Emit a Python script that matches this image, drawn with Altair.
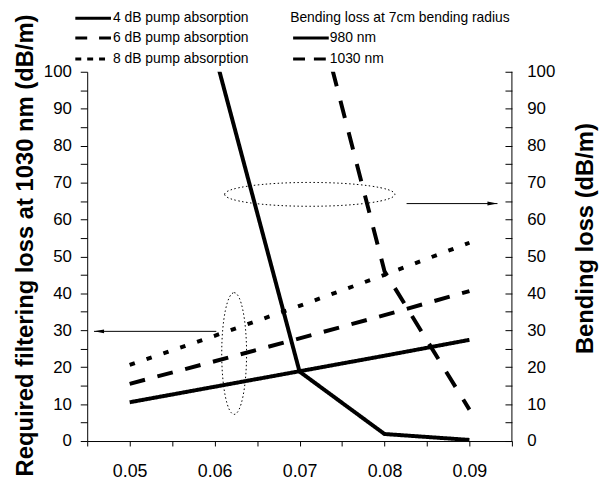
import altair as alt
import pandas as pd

# ---------------- data ----------------
x_vals = [0.05, 0.06, 0.07, 0.08, 0.09]
loss_4db = [10.5, 14.7, 18.9, 23.1, 27.4]
loss_6db = [15.5, 21.6, 27.8, 34.1, 40.6]
loss_8db = [20.6, 28.5, 36.6, 45.0, 53.7]
filter_series = ["4 dB pump absorption", "6 dB pump absorption", "8 dB pump absorption"]

bend_980_x = [0.06, 0.07, 0.08, 0.09]
bend_980 = [105.0, 18.8, 1.9, 0.3]
bend_1030_x = [0.07, 0.08, 0.09]
bend_1030 = [135.0, 46.0, 8.5]
bend_series = ["980 nm", "1030 nm"]
legend_title = "Bending loss at 7cm bending radius"

x_ticks = [0.045, 0.05, 0.055, 0.06, 0.065, 0.07, 0.075, 0.08, 0.085, 0.09, 0.095]
y_ticks = [0, 5, 10, 15, 20, 25, 30, 35, 40, 45, 50, 55, 60, 65, 70, 75, 80, 85, 90, 95, 100]

# annotation (ellipses + arrows), in data coordinates
ell_h = {"x": [0.0712], "y": [66.8]}
ell_v = {"x": [0.0623], "y": [23.7]}
arrow_x = [0.0826, 0.0602]
arrow_x2 = [0.0933, 0.0458]
arrow_y = [64.3, 29.7]
head_x = [0.0927, 0.0464]
head_angle = [0, 180]

W, H = 429, 373
SANS = "Liberation Sans"

filt_df = pd.DataFrame({
    "x": x_vals * 3,
    "y": loss_4db + loss_6db + loss_8db,
    "series": [filter_series[0]] * 5 + [filter_series[1]] * 5 + [filter_series[2]] * 5,
})
bend_df = pd.DataFrame({
    "x": bend_980_x + bend_1030_x,
    "y": bend_980 + bend_1030,
    "series": [bend_series[0]] * len(bend_980_x) + [bend_series[1]] * len(bend_1030_x),
})

xs = alt.Scale(domain=[0.045, 0.095], nice=False, zero=False)
ys = alt.Scale(domain=[0, 100], nice=False)

x_axis = alt.Axis(
    values=x_ticks,
    labelExpr="(round(datum.value*1000) % 10 == 0) ? format(datum.value, '.2f') : ''",
    tickSize=5, labelPadding=17, labelFont=SANS, labelFontSize=18,
    labelOverlap=False, labelFlush=False,
    title=None,
)
left_axis = alt.Axis(
    values=y_ticks, orient="left",
    labelExpr="datum.value % 10 == 0 ? datum.label : ''",
    tickSize=7, labelPadding=9, labelFont=SANS, labelFontSize=17,
    labelOverlap=False, labelFlush=False,
    title="Required filtering loss at 1030 nm (dB/m)",
    titleFont=SANS, titleFontSize=24, titleFontWeight="bold",
    titleAngle=270, titleX=-62, titleY=175, titleAlign="center", titleBaseline="middle",
)
right_axis = alt.Axis(
    values=y_ticks, orient="right", offset=-7, domain=False,
    labelExpr="datum.value % 10 == 0 ? datum.label : ''",
    tickSize=7, labelPadding=15, labelFont=SANS, labelFontSize=17,
    labelOverlap=False, labelFlush=False,
    title="Bending loss (dB/m)",
    titleFont=SANS, titleFontSize=24, titleFontWeight="bold",
    titleAngle=270, titleX=81, titleY=168, titleAlign="center", titleBaseline="middle",
)


def X(field):
    return alt.X(field, scale=xs, axis=x_axis)


def YL(field):
    return alt.Y(field, scale=ys, axis=left_axis)


filt = alt.Chart(filt_df).mark_line(strokeWidth=4, color="black").encode(
    x=X("x:Q"),
    y=YL("y:Q"),
    strokeDash=alt.StrokeDash("series:N", legend=None,
                              scale=alt.Scale(domain=filter_series,
                                              range=[[1, 0], [16, 13], [5.5, 12.5]])),
)

ellipse_h = alt.Chart(pd.DataFrame(ell_h)).mark_point(
    shape="M -1 0 A 1 0.14 0 1 1 1 0 A 1 0.14 0 1 1 -1 0 Z",
    size=172 * 172, filled=False, stroke="black", strokeWidth=1,
    strokeDash=[1.5, 2.5], opacity=1,
).encode(x=X("x:Q"), y=YL("y:Q"))

ellipse_v = alt.Chart(pd.DataFrame(ell_v)).mark_point(
    shape="M 0 -1 A 0.204 1 0 1 1 0 1 A 0.204 1 0 1 1 0 -1 Z",
    size=123 * 123, filled=False, stroke="black", strokeWidth=1,
    strokeDash=[1.5, 2.5], opacity=1,
).encode(x=X("x:Q"), y=YL("y:Q"))

arr_df = pd.DataFrame({"x": arrow_x, "x2": arrow_x2, "y": arrow_y,
                       "hx": head_x, "ang": head_angle})
arrows = alt.Chart(arr_df).mark_rule(strokeWidth=1, color="black").encode(
    x=X("x:Q"), x2="x2:Q", y=YL("y:Q"))
heads = alt.Chart(arr_df).mark_point(
    shape="M -1 -0.4 L 1 0 L -1 0.4 Z", size=100, filled=True,
    color="black", opacity=1,
).encode(x=X("hx:Q"), y=YL("y:Q"),
         angle=alt.Angle("ang:Q", scale=None))

# legend (drawn manually above plot)
leg_df = pd.DataFrame({
    "label": filter_series + [legend_title] + bend_series,
    "tx": [26, 26, 26, 205, 245, 245],
    "ty": [-54, -34, -13, -54, -34, -13],
})
leg_text = alt.Chart(leg_df).mark_text(
    align="left", baseline="middle", font=SANS, fontSize=14, color="black"
).encode(x=alt.X("tx:Q", scale=None), y=alt.Y("ty:Q", scale=None), text="label:N")

samples = [
    (-12, 24, -54, [1, 0]),
    (-12, 24, -34, [12, 12]),
    (-12, 19, -13, [6, 6]),
    (208, 244, -34, [1, 0]),
    (208, 241, -13, [12, 9]),
]
leg_lines = []
for x0, x1, yy, dash in samples:
    leg_lines.append(
        alt.Chart(pd.DataFrame({"a": [0]})).mark_rule(
            strokeWidth=3, color="black", strokeDash=dash
        ).encode(x=alt.value(x0), x2=alt.value(x1), y=alt.value(yy))
    )

right_border = alt.Chart(pd.DataFrame({"a": [0]})).mark_rule(
    strokeWidth=1, color="black"
).encode(x=alt.value(W), y=alt.value(0), y2=alt.value(H))

left_group = alt.layer(filt, ellipse_h, ellipse_v, arrows, heads, leg_text, *leg_lines, right_border)

bend = alt.Chart(bend_df).mark_line(strokeWidth=4, color="black", clip=True).encode(
    x=X("x:Q"),
    y=alt.Y("y:Q", scale=ys, axis=right_axis),
    strokeDash=alt.StrokeDash("series:N", legend=None,
                              scale=alt.Scale(domain=bend_series, range=[[1, 0], [18, 15]])),
)
right_group = alt.layer(bend)

chart = alt.layer(left_group, right_group).resolve_scale(
    y="independent", strokeDash="independent"
).properties(
    width=W, height=H,
    padding={"left": 80, "top": 62, "right": 91, "bottom": 41},
    autosize=alt.AutoSizeParams(type="none"),
).configure_view(stroke=None).configure_axis(
    grid=False, domainColor="black", tickColor="black", labelColor="black",
    titleColor="black", domainWidth=1, tickWidth=1,
)

chart.save("out.html", embed_options={"renderer": "svg", "actions": False})
